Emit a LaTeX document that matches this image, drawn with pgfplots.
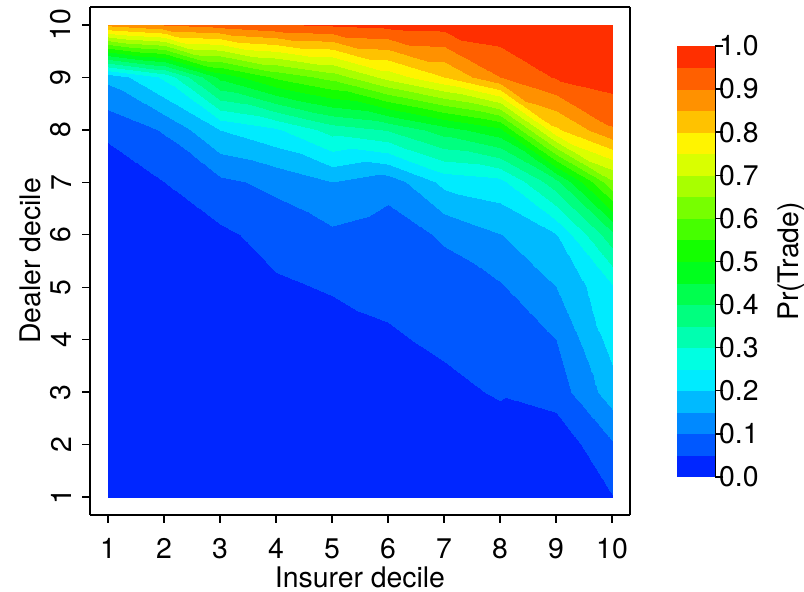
\documentclass[border=0pt]{standalone}
\usepackage{fontspec}
\setmainfont{TeX Gyre Heros}
\usepackage{pgfplots}
\usepackage{pgfplotstable}
\pgfplotsset{compat=1.18}
\usetikzlibrary{calc}

% Pr(Trade) on the insurer x dealer decile grid (x varies fastest)
\pgfplotstableread{
x y z
1 1 0.004
2 1 0.005
3 1 0.006
4 1 0.007
5 1 0.008
6 1 0.010
7 1 0.015
8 1 0.020
9 1 0.025
10 1 0.048
1 2 0.006
2 2 0.007
3 2 0.008
4 2 0.010
5 2 0.012
6 2 0.016
7 2 0.025
8 2 0.030
9 2 0.015
10 2 0.093
1 3 0.008
2 3 0.009
3 3 0.011
4 3 0.014
5 3 0.018
6 3 0.028
7 3 0.040
8 3 0.054
9 3 0.072
10 3 0.177
1 4 0.010
2 4 0.012
3 4 0.015
4 4 0.020
5 4 0.030
6 4 0.045
7 4 0.057
8 4 0.0745
9 4 0.100
10 4 0.220
1 5 0.012
2 5 0.016
3 5 0.022
4 5 0.043
5 5 0.054
6 5 0.060
7 5 0.075
8 5 0.0946
9 5 0.150
10 5 0.243
1 6 0.015
2 6 0.028
3 6 0.040
4 6 0.068
5 6 0.090
6 6 0.073
7 6 0.107
8 6 0.148
9 6 0.198
10 6 0.385
1 7 0.020
2 7 0.050
3 7 0.089
4 7 0.113
5 7 0.150
6 7 0.120
7 7 0.215
8 7 0.234
9 7 0.383
10 7 0.640
1 8 0.060
2 8 0.105
3 8 0.200
4 8 0.242
5 8 0.320
6 8 0.353
7 8 0.426
8 8 0.486
9 8 0.790
10 8 0.894
1 9 0.165
2 9 0.260
3 9 0.465
4 9 0.560
5 9 0.620
6 9 0.720
7 9 0.800
8 9 0.900
9 9 0.955
10 9 0.975
1 10 0.860
2 10 0.900
3 10 0.920
4 10 0.945
5 10 0.955
6 10 0.965
7 10 0.970
8 10 0.985
9 10 0.985
10 10 0.990
}\tradegrid

% 20 bands of width 0.05
\pgfplotsset{
  colormap={trade}{
    rgb255=(0,38,255) rgb255=(0,88,255) rgb255=(0,137,255) rgb255=(0,186,255)
    rgb255=(0,235,255) rgb255=(0,255,226) rgb255=(0,255,176) rgb255=(0,255,127)
    rgb255=(0,255,78) rgb255=(0,255,29) rgb255=(20,255,0) rgb255=(70,255,0)
    rgb255=(119,255,0) rgb255=(168,255,0) rgb255=(217,255,0) rgb255=(255,244,0)
    rgb255=(255,194,0) rgb255=(255,145,0) rgb255=(255,96,0) rgb255=(255,47,0)
  }
}

\begin{document}
\fontsize{28.5}{34}\selectfont
\begin{tikzpicture}
\useasboundingbox (0,0) rectangle (804bp,592bp);
\begin{axis}[
  at={(90bp,77bp)}, anchor=south west,
  scale only axis, width=540bp, height=508bp,
  view={0}{90},
  xmin=0.679, xmax=10.321, ymin=0.657, ymax=10.343,
  zmin=0, zmax=1, ztick=\empty,
  xtick={1,...,10}, ytick={1,...,10},
  xtick pos=left, ytick pos=left,
  tick align=outside, major tick length=8bp,
  axis line style={line width=1.4bp},
  tick style={black, line width=1.4bp},
  /pgf/number format/assume math mode=true,
  xticklabel shift=6bp,
  yticklabel shift=1bp,
  yticklabel style={rotate=90, anchor=south},
  xlabel={Insurer decile}, ylabel={Dealer decile},
  xlabel style={at={(axis description cs:0.5,-0.122)}, anchor=center, inner sep=1bp},
  ylabel style={at={(axis description cs:-0.111,0.5)}, anchor=center, inner sep=1bp},
  colormap name=trade,
  colormap access=piecewise constant,
  point meta min=0, point meta max=1,
  colorbar right,
  colorbar style={
    at={($(parent axis.south east)+(38bp,38bp)$)}, anchor=south west,
    scale only axis, width=39bp, height=431bp,
    colormap access=piecewise constant,
    ytick={0,0.1,...,1},
    axis x line=none, axis y line=right,
    y axis line style={-, line width=1.4bp},
    tick align=outside, major tick length=8bp,
    tick style={black, line width=1.4bp},
    yticklabel style={xshift=-14bp, /pgf/number format/.cd, fixed, fixed zerofill, precision=1, assume math mode=true},
    ylabel={Pr(Trade)},
    ylabel style={at={(axis description cs:2.95,0.5)}, anchor=center, rotate=90, inner sep=1bp},
  },
]
\addplot3[surf, shader=interp, mesh/rows=10, mesh/cols=10] table[x=x, y=y, z=z] {\tradegrid};
\end{axis}
\end{tikzpicture}
\end{document}
